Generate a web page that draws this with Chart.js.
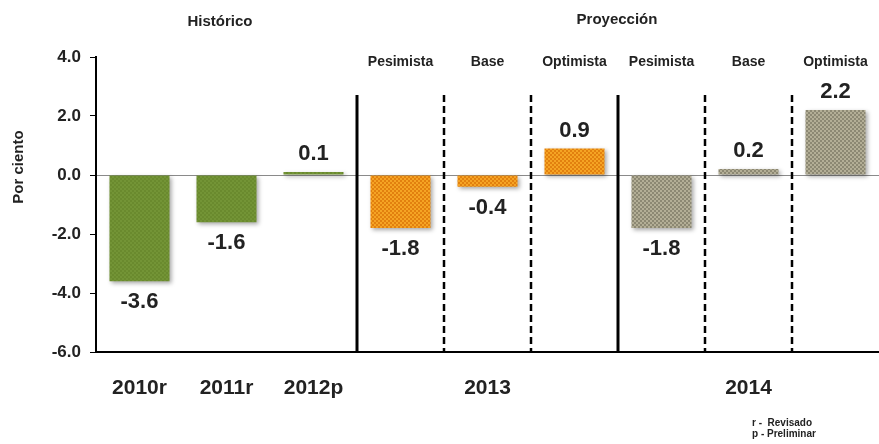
<!DOCTYPE html>
<html>
<head>
<meta charset="utf-8">
<script src="https://cdn.jsdelivr.net/npm/chart.js@4.4.1/dist/chart.umd.min.js"></script>
<style>
  html, body { margin: 0; padding: 0; background: #fff; }
  canvas { display: block; }
</style>
</head>
<body>
<canvas id="pibChart" width="879" height="444"></canvas>
<script>
// datos
const yearLabels = ['2010r', '2011r', '2012p', '', '2013', '', '', '2014', ''];
const scenarioLabels = ['', '', '', 'Pesimista', 'Base', 'Optimista', 'Pesimista', 'Base', 'Optimista'];
const barGroups = ['hist', 'hist', 'hist', 'p2013', 'p2013', 'p2013', 'p2014', 'p2014', 'p2014'];
const values = [-3.6, -1.6, 0.1, -1.8, -0.4, 0.9, -1.8, 0.2, 2.2];
const yTicks = [-6, -4, -2, 0, 2, 4];
// tipo de línea entre una barra y la siguiente
const dividers = ['', '', 'solid', 'dashed', 'dashed', 'solid', 'dashed', 'dashed'];

const FONT = "'Liberation Sans', Arial, sans-serif";
const canvas = document.getElementById('pibChart');
const ctx = canvas.getContext('2d');

function makePattern(base, dot) {
  const p = document.createElement('canvas');
  p.width = 4; p.height = 4;
  const g = p.getContext('2d');
  g.fillStyle = base;
  g.fillRect(0, 0, 4, 4);
  g.fillStyle = dot;
  g.fillRect(0, 0, 2, 2);
  g.fillRect(2, 2, 2, 2);
  return ctx.createPattern(p, 'repeat');
}

const fills = {
  hist: makePattern('#6a8a2e', '#739436'),
  p2013: makePattern('#f5a424', '#e2800f'),
  p2014: makePattern('#b3ae96', '#8c8873')
};

const shadowPlugin = {
  id: 'shadow',
  beforeDatasetsDraw(chart) {
    const c = chart.ctx;
    c.save();
    c.shadowColor = 'rgba(0,0,0,0.35)';
    c.shadowBlur = 4;
    c.shadowOffsetX = 2;
    c.shadowOffsetY = 2;
  },
  afterDatasetsDraw(chart) {
    chart.ctx.restore();
  }
};

const annotations = {
  id: 'annotations',
  afterDatasetsDraw(chart) {
    const c = chart.ctx;
    const x = chart.scales.x;
    const area = chart.chartArea;
    const bars = chart.getDatasetMeta(0).data;

    // separadores
    dividers.forEach((style, i) => {
      if (!style) return;
      const px = (x.getPixelForValue(i) + x.getPixelForValue(i + 1)) / 2;
      c.save();
      c.strokeStyle = '#000';
      if (style === 'solid') {
        c.lineWidth = 3;
      } else {
        c.lineWidth = 2.5;
        c.setLineDash([7, 4]);
      }
      c.beginPath();
      c.moveTo(px, 95);
      c.lineTo(px, area.bottom);
      c.stroke();
      c.restore();
    });

    // valores
    c.save();
    c.fillStyle = '#222';
    c.textAlign = 'center';
    c.textBaseline = 'middle';
    c.font = 'bold 22px ' + FONT;
    bars.forEach((bar, i) => {
      const v = values[i];
      const y = v < 0 ? bar.y + 21 : bar.y - 18;
      c.fillText(v.toFixed(1), bar.x, y);
    });

    // escenarios
    c.font = 'bold 14px ' + FONT;
    scenarioLabels.forEach((s, i) => {
      if (s) c.fillText(s, x.getPixelForValue(i), 62);
    });

    // encabezados
    c.font = 'bold 15px ' + FONT;
    c.fillText('Histórico', 220, 22);
    c.fillText('Proyección', 617, 20);

    // título del eje
    c.save();
    c.translate(19, 167);
    c.rotate(-Math.PI / 2);
    c.fillText('Por ciento', 0, 0);
    c.restore();

    // notas
    c.textAlign = 'left';
    c.font = 'bold 10px ' + FONT;
    c.fillText('r -  Revisado', 752, 423);
    c.fillText('p - Preliminar', 752, 434);
    c.restore();
  }
};

new Chart(ctx, {
  type: 'bar',
  data: {
    labels: yearLabels,
    datasets: [{
      data: values,
      backgroundColor: barGroups.map(g => fills[g]),
      borderWidth: 0,
      categoryPercentage: 1,
      barPercentage: 0.69
    }]
  },
  options: {
    responsive: false,
    animation: false,
    layout: { padding: { top: 57, right: 0, bottom: 0, left: 0 } },
    plugins: {
      legend: { display: false },
      tooltip: { enabled: false }
    },
    scales: {
      x: {
        grid: { display: false },
        border: { display: true, color: '#000', width: 2 },
        ticks: {
          color: '#222',
          padding: 16,
          maxRotation: 0,
          autoSkip: false,
          font: { family: FONT, size: 21, weight: 'bold' }
        },
        afterFit(scale) { scale.height = 92; }
      },
      y: {
        min: -6,
        max: 4,
        afterBuildTicks(scale) { scale.ticks = yTicks.map(v => ({ value: v })); },
        grid: {
          drawOnChartArea: true,
          color: c => (c.tick && c.tick.value === 0) ? '#8a8a8a' : 'rgba(0,0,0,0)',
          tickColor: '#000',
          tickLength: 6,
          lineWidth: 1
        },
        border: { display: true, color: '#000', width: 2 },
        ticks: {
          color: '#222',
          padding: 9,
          font: { family: FONT, size: 17, weight: 'bold' },
          callback: v => v.toFixed(1)
        },
        afterFit(scale) { scale.width = 96; }
      }
    }
  },
  plugins: [shadowPlugin, annotations]
});
</script>
</body>
</html>
